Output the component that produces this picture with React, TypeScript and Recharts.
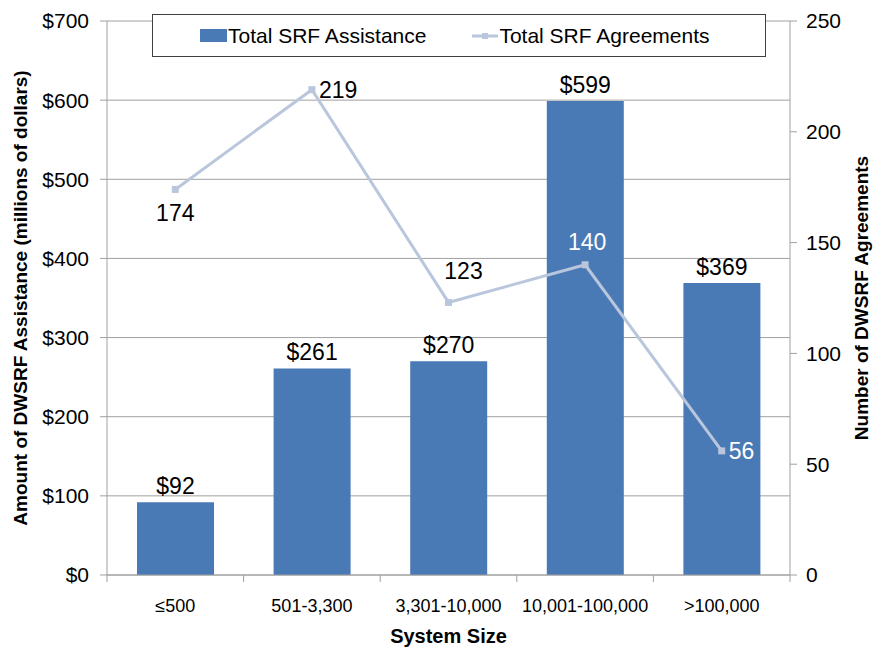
import React from 'react'
import {
  Bar,
  ComposedChart,
  LabelList,
  Line,
  XAxis,
  YAxis,
  CartesianGrid,
} from 'recharts'

const categories = ['≤500', '501-3,300', '3,301-10,000', '10,001-100,000', '>100,000']
const assistance = [92, 261, 270, 599, 369]
const agreements = [174, 219, 123, 140, 56]
const leftTicks = [0, 100, 200, 300, 400, 500, 600, 700]
const rightTicks = [0, 50, 100, 150, 200, 250]

// offsets of the agreement labels from their points, and their colour
const lineLabelOffset = [
  { dx: 0, dy: 32, anchor: 'middle' },
  { dx: 7, dy: 8, anchor: 'start' },
  { dx: 15, dy: -23, anchor: 'middle' },
  { dx: 2, dy: -15, anchor: 'middle' },
  { dx: 7, dy: 8, anchor: 'start' },
]
const lineLabelColor = ['#000', '#000', '#000', '#fff', '#fff']

const data = categories.map((name, i) => ({
  name,
  assistance: assistance[i],
  agreements: agreements[i],
}))

const FONT = '"Liberation Sans", Arial, sans-serif'
const BAR = '#4a7ab6'
const LINE = '#b9c6dc'
const AXIS = '#a0a0a0'

const PLOT_LEFT = 107
const PLOT_RIGHT = 790
const BAND = (PLOT_RIGHT - PLOT_LEFT) / categories.length

function CategoryTick(props: any) {
  const { x, y, payload, index } = props
  const left = x - BAND / 2
  return (
    <g>
      <line x1={left} y1={y - 8} x2={left} y2={y - 1} stroke={AXIS} />
      {index === categories.length - 1 && (
        <line x1={left + BAND} y1={y - 8} x2={left + BAND} y2={y - 1} stroke={AXIS} />
      )}
      <text x={x} y={y + 29} textAnchor="middle" fontSize={18} fontFamily={FONT} fill="#000">
        {payload.value}
      </text>
    </g>
  )
}

function SquareDot(props: any) {
  const { cx, cy } = props
  return <rect x={cx - 3.5} y={cy - 3.5} width={7} height={7} fill={LINE} />
}

function LineLabel(props: any) {
  const { x, y, value, index } = props
  const o = lineLabelOffset[index]
  return (
    <text
      x={x + o.dx}
      y={y + o.dy}
      textAnchor={o.anchor as any}
      fontSize={23}
      fontFamily={FONT}
      fill={lineLabelColor[index]}
    >
      {value}
    </text>
  )
}

function BarLabel(props: any) {
  const { x, y, width, value } = props
  return (
    <text x={x + width / 2} y={y - 8} textAnchor="middle" fontSize={23} fontFamily={FONT} fill="#000">
      ${value}
    </text>
  )
}

function LegendBox() {
  return (
    <div
      style={{
        position: 'absolute',
        top: 14,
        left: 152,
        width: 612,
        height: 41,
        border: '1px solid #404040',
        background: '#fff',
        fontFamily: FONT,
        fontSize: 21,
        display: 'flex',
        alignItems: 'center',
        color: '#000',
      }}
    >
      <span style={{ display: 'inline-block', width: 27, height: 13, background: BAR, marginLeft: 47 }} />
      <span style={{ marginLeft: 1 }}>Total SRF Assistance</span>
      <svg width={26} height={12} style={{ marginLeft: 46 }}>
        <line x1={0} y1={6} x2={26} y2={6} stroke={LINE} strokeWidth={3} />
        <rect x={10} y={3} width={6} height={6} fill={LINE} />
      </svg>
      <span style={{ marginLeft: 1 }}>Total SRF Agreements</span>
    </div>
  )
}

const axisTitle = { fontFamily: FONT, fontSize: 19, fontWeight: 'bold', fill: '#000' }

export default function App() {
  return (
    <div style={{ position: 'absolute', left: 0, top: 0, width: 882, height: 649, background: '#fff' }}>
      <ComposedChart
        width={882}
        height={649}
        data={data}
        margin={{ top: 21, right: 0, bottom: 0, left: 0 }}
        barCategoryGap={0}
      >
        <CartesianGrid yAxisId="left" vertical={false} stroke={AXIS} />
        <XAxis
          dataKey="name"
          height={74}
          axisLine={{ stroke: AXIS }}
          tickLine={false}
          tick={<CategoryTick />}
          interval={0}
          label={{
            value: 'System Size',
            position: 'insideBottom',
            offset: 6,
            style: { ...axisTitle, fontSize: 20 },
          }}
        />
        <YAxis
          yAxisId="left"
          width={107}
          domain={[0, 700]}
          ticks={leftTicks}
          interval={0}
          axisLine={{ stroke: AXIS }}
          tickLine={{ stroke: AXIS }}
          tickSize={7}
          tickMargin={11}
          tickFormatter={(v) => `$${v}`}
          tick={{ fontFamily: FONT, fontSize: 21, fill: '#000' }}
          label={{
            value: 'Amount of DWSRF Assistance (millions of dollars)',
            angle: -90,
            position: 'insideLeft',
            offset: 20,
            style: { ...axisTitle, textAnchor: 'middle' },
          }}
        />
        <YAxis
          yAxisId="right"
          orientation="right"
          width={92}
          domain={[0, 250]}
          ticks={rightTicks}
          interval={0}
          axisLine={{ stroke: AXIS }}
          tickLine={{ stroke: AXIS }}
          tickSize={7}
          tickMargin={9}
          tick={{ fontFamily: FONT, fontSize: 21, fill: '#000' }}
          label={{
            value: 'Number of DWSRF Agreements',
            angle: -90,
            position: 'insideRight',
            offset: 21,
            style: { ...axisTitle, textAnchor: 'middle' },
          }}
        />
        <Bar yAxisId="left" dataKey="assistance" name="Total SRF Assistance" fill={BAR} barSize={77} isAnimationActive={false}>
          <LabelList dataKey="assistance" content={<BarLabel />} />
        </Bar>
        <Line
          yAxisId="right"
          dataKey="agreements"
          name="Total SRF Agreements"
          stroke={LINE}
          strokeWidth={3}
          dot={<SquareDot />}
          activeDot={false}
          isAnimationActive={false}
        >
          <LabelList dataKey="agreements" content={<LineLabel />} />
        </Line>
      </ComposedChart>
      <LegendBox />
    </div>
  )
}
